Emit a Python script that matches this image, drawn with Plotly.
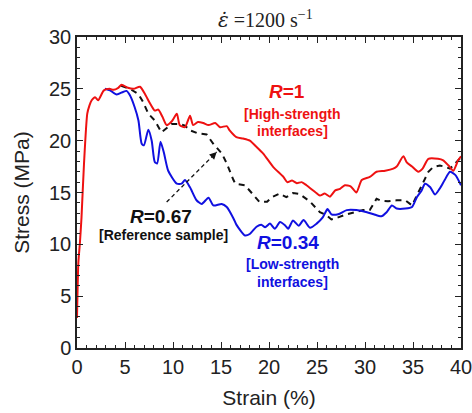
import plotly.graph_objects as go

# ---------------- data ----------------
red_x = [0, 0.14, 0.3, 0.47, 0.73, 1.07, 1.3, 1.53, 1.88, 2.2, 2.8, 3.4, 3.8, 4.3, 4.65, 5.3, 5.9, 6.56,
         7.08, 7.6, 8.1, 8.47, 8.9, 9.34, 9.9, 10.4, 10.7, 11.25, 11.77, 12.1, 12.6, 13.15, 13.7, 14.4,
         14.9, 15.6, 15.9, 16.6, 17.3, 18.0, 18.7, 19.4, 20.45, 21.5, 21.9, 22.4, 22.9, 23.4, 23.9, 24.8,
         25.3, 25.8, 26.35, 26.9, 27.4, 27.9, 28.5, 29.1, 29.66, 30.5, 31.2, 32.1, 32.95, 33.3, 34.0, 34.35,
         34.9, 35.55, 36.0, 36.6, 37.6, 38.15, 38.7, 39.2, 39.7, 40.0]
red_y = [2.9, 8.2, 10.1, 12.6, 17.8, 22.6, 23.4, 23.9, 24.2, 23.9, 24.85, 25.0, 24.9, 25.1, 25.4, 25.1, 25.0, 25.2,
         24.5, 23.6, 22.9, 23.0, 22.3, 21.5, 21.9, 22.6, 21.5, 21.3, 22.4, 21.5, 21.8, 21.7, 21.5, 21.7,
         21.3, 21.4, 21.0, 20.35, 20.2, 20.0, 19.4, 18.75, 17.45, 16.5, 16.0, 16.15, 15.9, 16.0, 15.7, 15.05,
         14.7, 14.9, 14.6, 15.2, 15.35, 15.7, 15.6, 15.0, 16.2, 16.5, 17.0, 17.1, 17.3, 17.5, 18.5, 17.9,
         17.5, 17.0, 17.3, 18.25, 18.25, 18.1, 17.6, 17.1, 18.1, 18.5]

blue_x = [2.9, 3.44, 4.13, 4.8, 5.15, 5.5, 6.0, 6.4, 6.74, 6.97, 7.43, 7.78, 8.1, 8.35, 8.7, 9.06, 9.5,
          10.4, 10.9, 11.25, 11.77, 12.45, 13.0, 13.7, 14.2, 15.07, 15.6, 16.3, 16.6, 17.5, 18.0, 18.7,
          19.2, 19.6, 20.1, 20.6, 21.15, 21.7, 22.0, 22.5, 23.1, 23.6, 24.27, 24.96, 25.6, 26.1, 26.5,
          27.2, 28.1, 29.1, 30.2, 30.9, 31.7, 32.25, 32.8, 33.3, 34.2, 34.9, 35.4, 35.9, 36.25, 36.8,
          37.3, 37.8, 38.3, 38.85, 39.4, 40.0]
blue_y = [25.0, 24.85, 24.45, 24.7, 24.8, 24.4, 23.25, 21.95, 19.7, 19.55, 21.05, 20.0, 17.95, 17.8, 19.9, 18.8, 17.1,
          15.85, 15.85, 16.2, 15.5, 14.25, 13.9, 14.5, 13.75, 13.9, 13.6, 12.5, 11.9, 10.85, 11.0, 11.7,
          11.9, 11.65, 12.0, 11.5, 12.15, 11.8, 11.5, 12.3, 11.8, 12.35, 11.6, 12.0, 12.6, 13.4, 12.9,
          12.9, 13.3, 13.3, 13.1, 12.9, 12.7, 13.1, 13.75, 13.45, 13.45, 13.6, 14.55, 15.2, 15.85, 15.5,
          14.8, 15.4, 16.2, 17.0, 16.7, 15.7]

ref_x = [4.6, 5.5, 6.4, 6.9, 7.43, 8.1, 8.8, 9.2, 9.86, 10.7, 11.25, 11.77, 12.6, 13.5, 14.2, 15.1, 15.6,
         16.3, 16.5, 17.5, 18.4, 19.0, 19.8, 20.3, 21.1, 21.8, 22.5, 23.2, 24.3, 25.3, 26.0, 26.5, 27.2,
         28.1, 28.96, 29.8, 30.5, 31.2, 31.7, 32.4, 33.3, 34.2, 34.9, 35.55, 36.1, 36.6, 37.1, 37.8, 38.3,
         38.85, 39.4, 40.0]
ref_y = [25.3, 25.0, 24.5, 23.7, 22.6, 21.95, 20.8, 21.1, 21.6, 21.6, 21.45, 21.0, 20.7, 20.6, 19.7, 18.75, 17.8,
         16.2, 15.85, 15.7, 14.7, 14.1, 14.1, 14.55, 14.9, 14.55, 14.95, 14.85, 14.1, 13.1, 12.8, 12.4, 12.6,
         12.9, 13.1, 13.3, 13.3, 14.4, 14.2, 14.15, 14.25, 14.25, 13.75, 15.05, 16.0, 17.0, 17.45, 17.6, 17.5,
         17.3, 17.8, 18.4]

x_ticks = [0, 5, 10, 15, 20, 25, 30, 35, 40]
y_ticks = [0, 5, 10, 15, 20, 25, 30]

RED = "#ee1111"
BLUE = "#1010e0"
BLACK = "#111111"
SANS = "Liberation Sans, Arial, sans-serif"

fig = go.Figure()
fig.add_trace(go.Scatter(x=ref_x, y=ref_y, mode="lines",
                         line=dict(color=BLACK, width=2, dash="6px,5px"), hoverinfo="skip"))
fig.add_trace(go.Scatter(x=blue_x, y=blue_y, mode="lines",
                         line=dict(color=BLUE, width=2, shape="spline", smoothing=0.6), hoverinfo="skip"))
fig.add_trace(go.Scatter(x=red_x, y=red_y, mode="lines",
                         line=dict(color=RED, width=2, shape="spline", smoothing=0.6), hoverinfo="skip"))

# dashed arrow from the R=0.67 label to the reference curve
arrow_tail = (9.34, 14.08)
arrow_head = (14.55, 18.9)
fig.add_shape(type="line", x0=arrow_tail[0], y0=arrow_tail[1], x1=arrow_head[0], y1=arrow_head[1],
              xref="x", yref="y", line=dict(color=BLACK, width=1.3, dash="4px,3px"))
fig.add_annotation(x=arrow_head[0], y=arrow_head[1], xref="x", yref="y", text=" ",
                   showarrow=True, arrowhead=2, arrowsize=1.1, arrowwidth=1.3, arrowcolor=BLACK,
                   ax=-7, ay=7)

def label(x, y, text, color, size):
    fig.add_annotation(x=x, y=y, xref="x", yref="y", text=text, showarrow=False,
                       font=dict(family=SANS, size=size, color=color), xanchor="center", yanchor="middle")

label(21.9, 24.7, "<b><i>R</i>=1</b>", RED, 19)
label(22.4, 22.6, "<b>[High-strength</b>", RED, 14)
label(22.4, 20.9, "<b>interfaces]</b>", RED, 14)

label(8.76, 12.65, "<b><i>R</i>=0.67</b>", BLACK, 19)
label(9.0, 10.87, "<b>[Reference sample]</b>", BLACK, 14)

label(22.0, 10.15, "<b><i>R</i>=0.34</b>", BLUE, 19)
label(22.4, 8.07, "<b>[Low-strength</b>", BLUE, 14)
label(22.4, 6.38, "<b>interfaces]</b>", BLUE, 14)

# title
fig.add_annotation(x=0.49, y=1.0, xref="paper", yref="paper", yanchor="bottom", yshift=3,
                   text="<span style='font-family:DejaVu Serif'><i>ε̇</i></span> =1200 s<sup>−1</sup>",
                   showarrow=False,
                   font=dict(family="Liberation Serif, Times New Roman, serif", size=20, color="#222222"))

axis_common = dict(
    showline=True, linecolor="#222222", linewidth=1.5, mirror="allticks",
    ticks="inside", ticklen=6, tickwidth=1.2, tickcolor="#222222",
    showgrid=False, zeroline=False, automargin=False, ticklabeloverflow="allow",
    tickfont=dict(family=SANS, size=20, color="#222222"),
    minor=dict(ticks="inside", ticklen=3, tickwidth=1, tickcolor="#222222", dtick=1, showgrid=False),
)

fig.update_xaxes(range=[0, 40], tickvals=x_ticks, ticktext=[str(v) for v in x_ticks],
                 title=dict(text="Strain (%)", font=dict(family=SANS, size=21, color="#222222"), standoff=14),
                 **axis_common)
fig.update_yaxes(range=[0, 30], tickvals=y_ticks, ticktext=[str(v) for v in y_ticks],
                 title=dict(text="Stress (MPa)", font=dict(family=SANS, size=21, color="#222222"), standoff=14),
                 **axis_common)

fig.update_layout(width=472, height=413, margin=dict(l=77, r=11, t=37, b=65),
                  paper_bgcolor="white", plot_bgcolor="white", showlegend=False)

fig.write_html("out.html")
